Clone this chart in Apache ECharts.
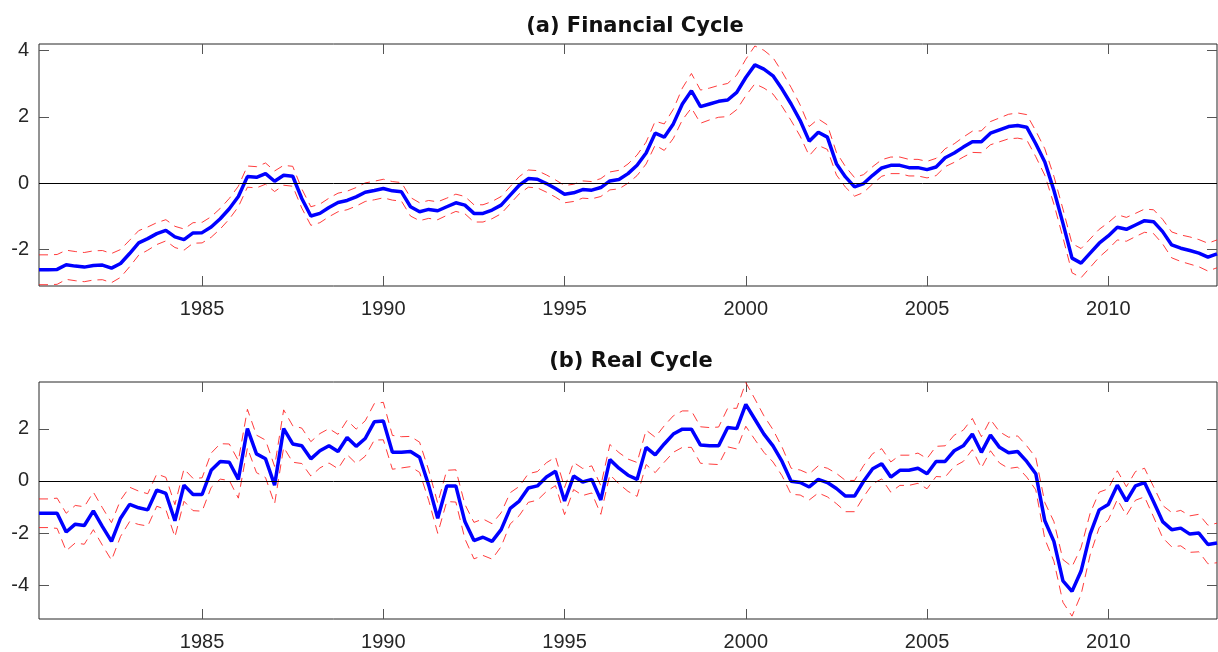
<!DOCTYPE html>
<html>
<head>
<meta charset="utf-8">
<script src="https://cdn.jsdelivr.net/npm/echarts@6/dist/echarts.min.js"></script>
<style>
  html, body { margin: 0; padding: 0; background: #fff; }
  #main { width: 1218px; height: 652px; }
</style>
</head>
<body>
<div id="main"></div>
<script>
// 季度数据，从 1980Q3 开始
var startYear = 1980.5;
var yearTicks = [1985, 1990, 1995, 2000, 2005, 2010];
var fcTicks = [-2, 0, 2, 4];
var rcTicks = [-4, -2, 0, 2];

// (a) financial cycle
var fc = [
  -2.61, -2.61,
  -2.60, -2.46, -2.50, -2.53,
  -2.48, -2.47, -2.56, -2.42,
  -2.12, -1.80, -1.67, -1.52,
  -1.42, -1.62, -1.70, -1.50,
  -1.49, -1.32, -1.07, -0.77,
  -0.40, 0.20, 0.18, 0.29,
  0.06, 0.24, 0.21, -0.46,
  -0.99, -0.91, -0.73, -0.58,
  -0.52, -0.41, -0.27, -0.22,
  -0.16, -0.23, -0.26, -0.71,
  -0.86, -0.79, -0.83, -0.71,
  -0.59, -0.66, -0.91, -0.91,
  -0.81, -0.66, -0.36, -0.06,
  0.14, 0.12, -0.01, -0.16,
  -0.33, -0.29, -0.19, -0.21,
  -0.13, 0.07, 0.11, 0.29,
  0.54, 0.91, 1.51, 1.39,
  1.79, 2.39, 2.79, 2.31,
  2.39, 2.47, 2.51, 2.74,
  3.19, 3.57, 3.44, 3.24,
  2.84, 2.39, 1.89, 1.27,
  1.54, 1.39, 0.59, 0.19,
  -0.11, -0.01, 0.24, 0.46,
  0.54, 0.54, 0.47, 0.47,
  0.41, 0.49, 0.77, 0.91,
  1.09, 1.25, 1.25, 1.51,
  1.61, 1.71, 1.74, 1.69,
  1.19, 0.64, -0.21, -1.21,
  -2.26, -2.41, -2.11, -1.81,
  -1.59, -1.33, -1.39, -1.26,
  -1.13, -1.16, -1.46, -1.86,
  -1.96, -2.03, -2.11, -2.23,
  -2.13
];
// 置信带半宽
var fcBand = [
  0.45, 0.45,
  0.45, 0.44, 0.44, 0.44,
  0.44, 0.44, 0.44, 0.42,
  0.40, 0.37, 0.35, 0.33,
  0.32, 0.32, 0.32, 0.31,
  0.31, 0.31, 0.31, 0.31,
  0.31, 0.32, 0.32, 0.32,
  0.31, 0.30, 0.30, 0.29,
  0.28, 0.28, 0.28, 0.28,
  0.28, 0.28, 0.28, 0.28,
  0.28, 0.28, 0.28, 0.28,
  0.27, 0.27, 0.27, 0.26,
  0.26, 0.26, 0.26, 0.26,
  0.26, 0.26, 0.26, 0.26,
  0.26, 0.26, 0.26, 0.26,
  0.26, 0.26, 0.26, 0.26,
  0.27, 0.27, 0.28, 0.29,
  0.31, 0.33, 0.36, 0.40,
  0.44, 0.48, 0.52, 0.50,
  0.48, 0.48, 0.50, 0.52,
  0.55, 0.57, 0.57, 0.55,
  0.52, 0.50, 0.47, 0.44,
  0.40, 0.37, 0.34, 0.31,
  0.28, 0.27, 0.26, 0.25,
  0.25, 0.25, 0.25, 0.25,
  0.25, 0.26, 0.27, 0.28,
  0.30, 0.32, 0.33, 0.35,
  0.36, 0.37, 0.38, 0.38,
  0.39, 0.40, 0.42, 0.43,
  0.44, 0.44, 0.43, 0.42,
  0.40, 0.38, 0.36, 0.35,
  0.35, 0.36, 0.37, 0.39,
  0.40, 0.41, 0.41, 0.42,
  0.42
];

// (b) real cycle
var rc = [
  -1.24, -1.24,
  -1.24, -1.96, -1.66, -1.71,
  -1.15, -1.75, -2.32, -1.43,
  -0.90, -1.03, -1.11, -0.35,
  -0.48, -1.53, -0.16, -0.52,
  -0.52, 0.41, 0.75, 0.72,
  0.06, 2.01, 1.04, 0.85,
  -0.16, 2.01, 1.42, 1.35,
  0.85, 1.16, 1.35, 1.13,
  1.67, 1.33, 1.63, 2.27,
  2.30, 1.10, 1.10, 1.13,
  0.91, -0.16, -1.43, -0.19,
  -0.19, -1.56, -2.29, -2.16,
  -2.32, -1.87, -1.05, -0.77,
  -0.27, -0.19, 0.15, 0.37,
  -0.77, 0.19, -0.04, 0.06,
  -0.73, 0.82, 0.49, 0.22,
  0.06, 1.29, 1.00, 1.42,
  1.80, 1.99, 1.99, 1.38,
  1.35, 1.35, 2.05, 2.01,
  2.94, 2.37, 1.80, 1.35,
  0.75, -0.01, -0.06, -0.23,
  0.06, -0.06, -0.29, -0.58,
  -0.58, -0.01, 0.47, 0.66,
  0.15, 0.41, 0.41, 0.49,
  0.28, 0.75, 0.75, 1.16,
  1.35, 1.80, 1.10, 1.76,
  1.29, 1.08, 1.13, 0.75,
  0.28, -1.53, -2.32, -3.84,
  -4.24, -3.46, -2.04, -1.11,
  -0.90, -0.16, -0.77, -0.19,
  -0.06, -0.80, -1.56, -1.87,
  -1.81, -2.04, -2.00, -2.44,
  -2.38
];
var rcBand = [
  0.55, 0.55,
  0.58, 0.72, 0.72, 0.72,
  0.72, 0.72, 0.72, 0.70,
  0.66, 0.64, 0.62, 0.62,
  0.62, 0.62, 0.62, 0.62,
  0.64, 0.66, 0.68, 0.70,
  0.72, 0.74, 0.72, 0.72,
  0.72, 0.72, 0.70, 0.68,
  0.66, 0.66, 0.66, 0.66,
  0.66, 0.66, 0.68, 0.70,
  0.72, 0.65, 0.60, 0.58,
  0.58, 0.58, 0.58, 0.60,
  0.62, 0.66, 0.70, 0.70,
  0.68, 0.65, 0.60, 0.56,
  0.55, 0.55, 0.55, 0.55,
  0.52, 0.52, 0.52, 0.52,
  0.55, 0.58, 0.60, 0.62,
  0.65, 0.66, 0.68, 0.70,
  0.70, 0.70, 0.70, 0.70,
  0.70, 0.72, 0.74, 0.78,
  0.84, 0.78, 0.70, 0.62,
  0.55, 0.50, 0.48, 0.50,
  0.52, 0.55, 0.58, 0.60,
  0.60, 0.60, 0.58, 0.58,
  0.58, 0.58, 0.58, 0.58,
  0.58, 0.58, 0.60, 0.60,
  0.60, 0.60, 0.60, 0.60,
  0.60, 0.60, 0.60, 0.60,
  0.62, 0.70, 0.76, 0.82,
  0.95, 0.90, 0.80, 0.68,
  0.60, 0.55, 0.55, 0.55,
  0.55, 0.58, 0.62, 0.66,
  0.68, 0.70, 0.72, 0.74,
  0.76
];

// 把季度序列转成 [年份, 值]
function toPoints(values, band, sign) {
  return values.map(function (v, i) {
    return [startYear + i / 4, +(v + sign * (band ? band[i] : 0)).toFixed(3)];
  });
}

var axisColor = '#262626';
var labelFont = {
  color: axisColor,
  fontFamily: 'Liberation Sans, Arial, sans-serif',
  fontSize: 20,
  formatter: function (v) { return String(v); }
};

function xAxisFor(grid, pos, showLabel) {
  return {
    type: 'value', gridIndex: grid, position: pos,
    min: 1980.5, max: 2013,
    axisLine: { show: false, onZero: false },
    splitLine: { show: false },
    axisTick: { inside: true, length: 10, customValues: yearTicks, lineStyle: { color: '#555', width: 1 } },
    axisLabel: Object.assign({ show: showLabel, margin: 13, customValues: yearTicks }, labelFont)
  };
}

function yAxisFor(grid, pos, showLabel, min, max, ticks) {
  return {
    type: 'value', gridIndex: grid, position: pos,
    min: min, max: max,
    axisLine: { show: false, onZero: false },
    splitLine: { show: false },
    axisTick: { inside: true, length: 10, customValues: ticks, lineStyle: { color: '#555', width: 1 } },
    axisLabel: Object.assign({ show: showLabel, margin: 10, customValues: ticks }, labelFont)
  };
}

function bandSeries(data, xi, yi) {
  return {
    type: 'line', xAxisIndex: xi, yAxisIndex: yi, data: data,
    showSymbol: false, symbol: 'none', silent: true, z: 2,
    lineStyle: { color: '#ff1a1a', width: 1, opacity: 0.85, type: [9, 6] }
  };
}

function mainSeries(data, xi, yi) {
  return {
    type: 'line', xAxisIndex: xi, yAxisIndex: yi, data: data,
    showSymbol: false, symbol: 'none', silent: true, z: 3,
    lineStyle: { color: '#0000ff', width: 3.5 },
    markLine: {
      silent: true, symbol: 'none', label: { show: false },
      lineStyle: { color: '#000', width: 1, type: 'solid' },
      data: [{ yAxis: 0 }]
    }
  };
}

var chart = echarts.init(document.getElementById('main'));

var option = {
  animation: false,
  backgroundColor: '#fff',
  title: [
    { text: '(a) Financial Cycle', left: 635, top: 16, textAlign: 'center', padding: 0,
      textStyle: { fontFamily: 'DejaVu Sans', fontWeight: 'bold', fontSize: 21, color: '#111' } },
    { text: '(b) Real Cycle', left: 631, top: 351, textAlign: 'center', padding: 0,
      textStyle: { fontFamily: 'DejaVu Sans', fontWeight: 'bold', fontSize: 21, color: '#111' } }
  ],
  grid: [
    { left: 39, right: 1, top: 44, height: 242, show: true, borderColor: axisColor, borderWidth: 1, backgroundColor: 'transparent' },
    { left: 39, right: 1, top: 382, height: 240, show: true, borderColor: axisColor, borderWidth: 1, backgroundColor: 'transparent' }
  ],
  xAxis: [
    xAxisFor(0, 'bottom', true),
    xAxisFor(0, 'top', false),
    xAxisFor(1, 'bottom', true),
    xAxisFor(1, 'top', false)
  ],
  yAxis: [
    yAxisFor(0, 'left', true, -3.1, 4.2, fcTicks),
    yAxisFor(0, 'right', false, -3.1, 4.2, fcTicks),
    yAxisFor(1, 'left', true, -5.3, 3.8, rcTicks),
    yAxisFor(1, 'right', false, -5.3, 3.8, rcTicks)
  ],
  series: [
    bandSeries(toPoints(fc, fcBand, 1), 0, 0),
    bandSeries(toPoints(fc, fcBand, -1), 0, 0),
    mainSeries(toPoints(fc, null, 0), 0, 0),
    bandSeries(toPoints(rc, rcBand, 1), 2, 2),
    bandSeries(toPoints(rc, rcBand, -1), 2, 2),
    mainSeries(toPoints(rc, null, 0), 2, 2)
  ]
};

chart.setOption(option);
</script>
</body>
</html>
